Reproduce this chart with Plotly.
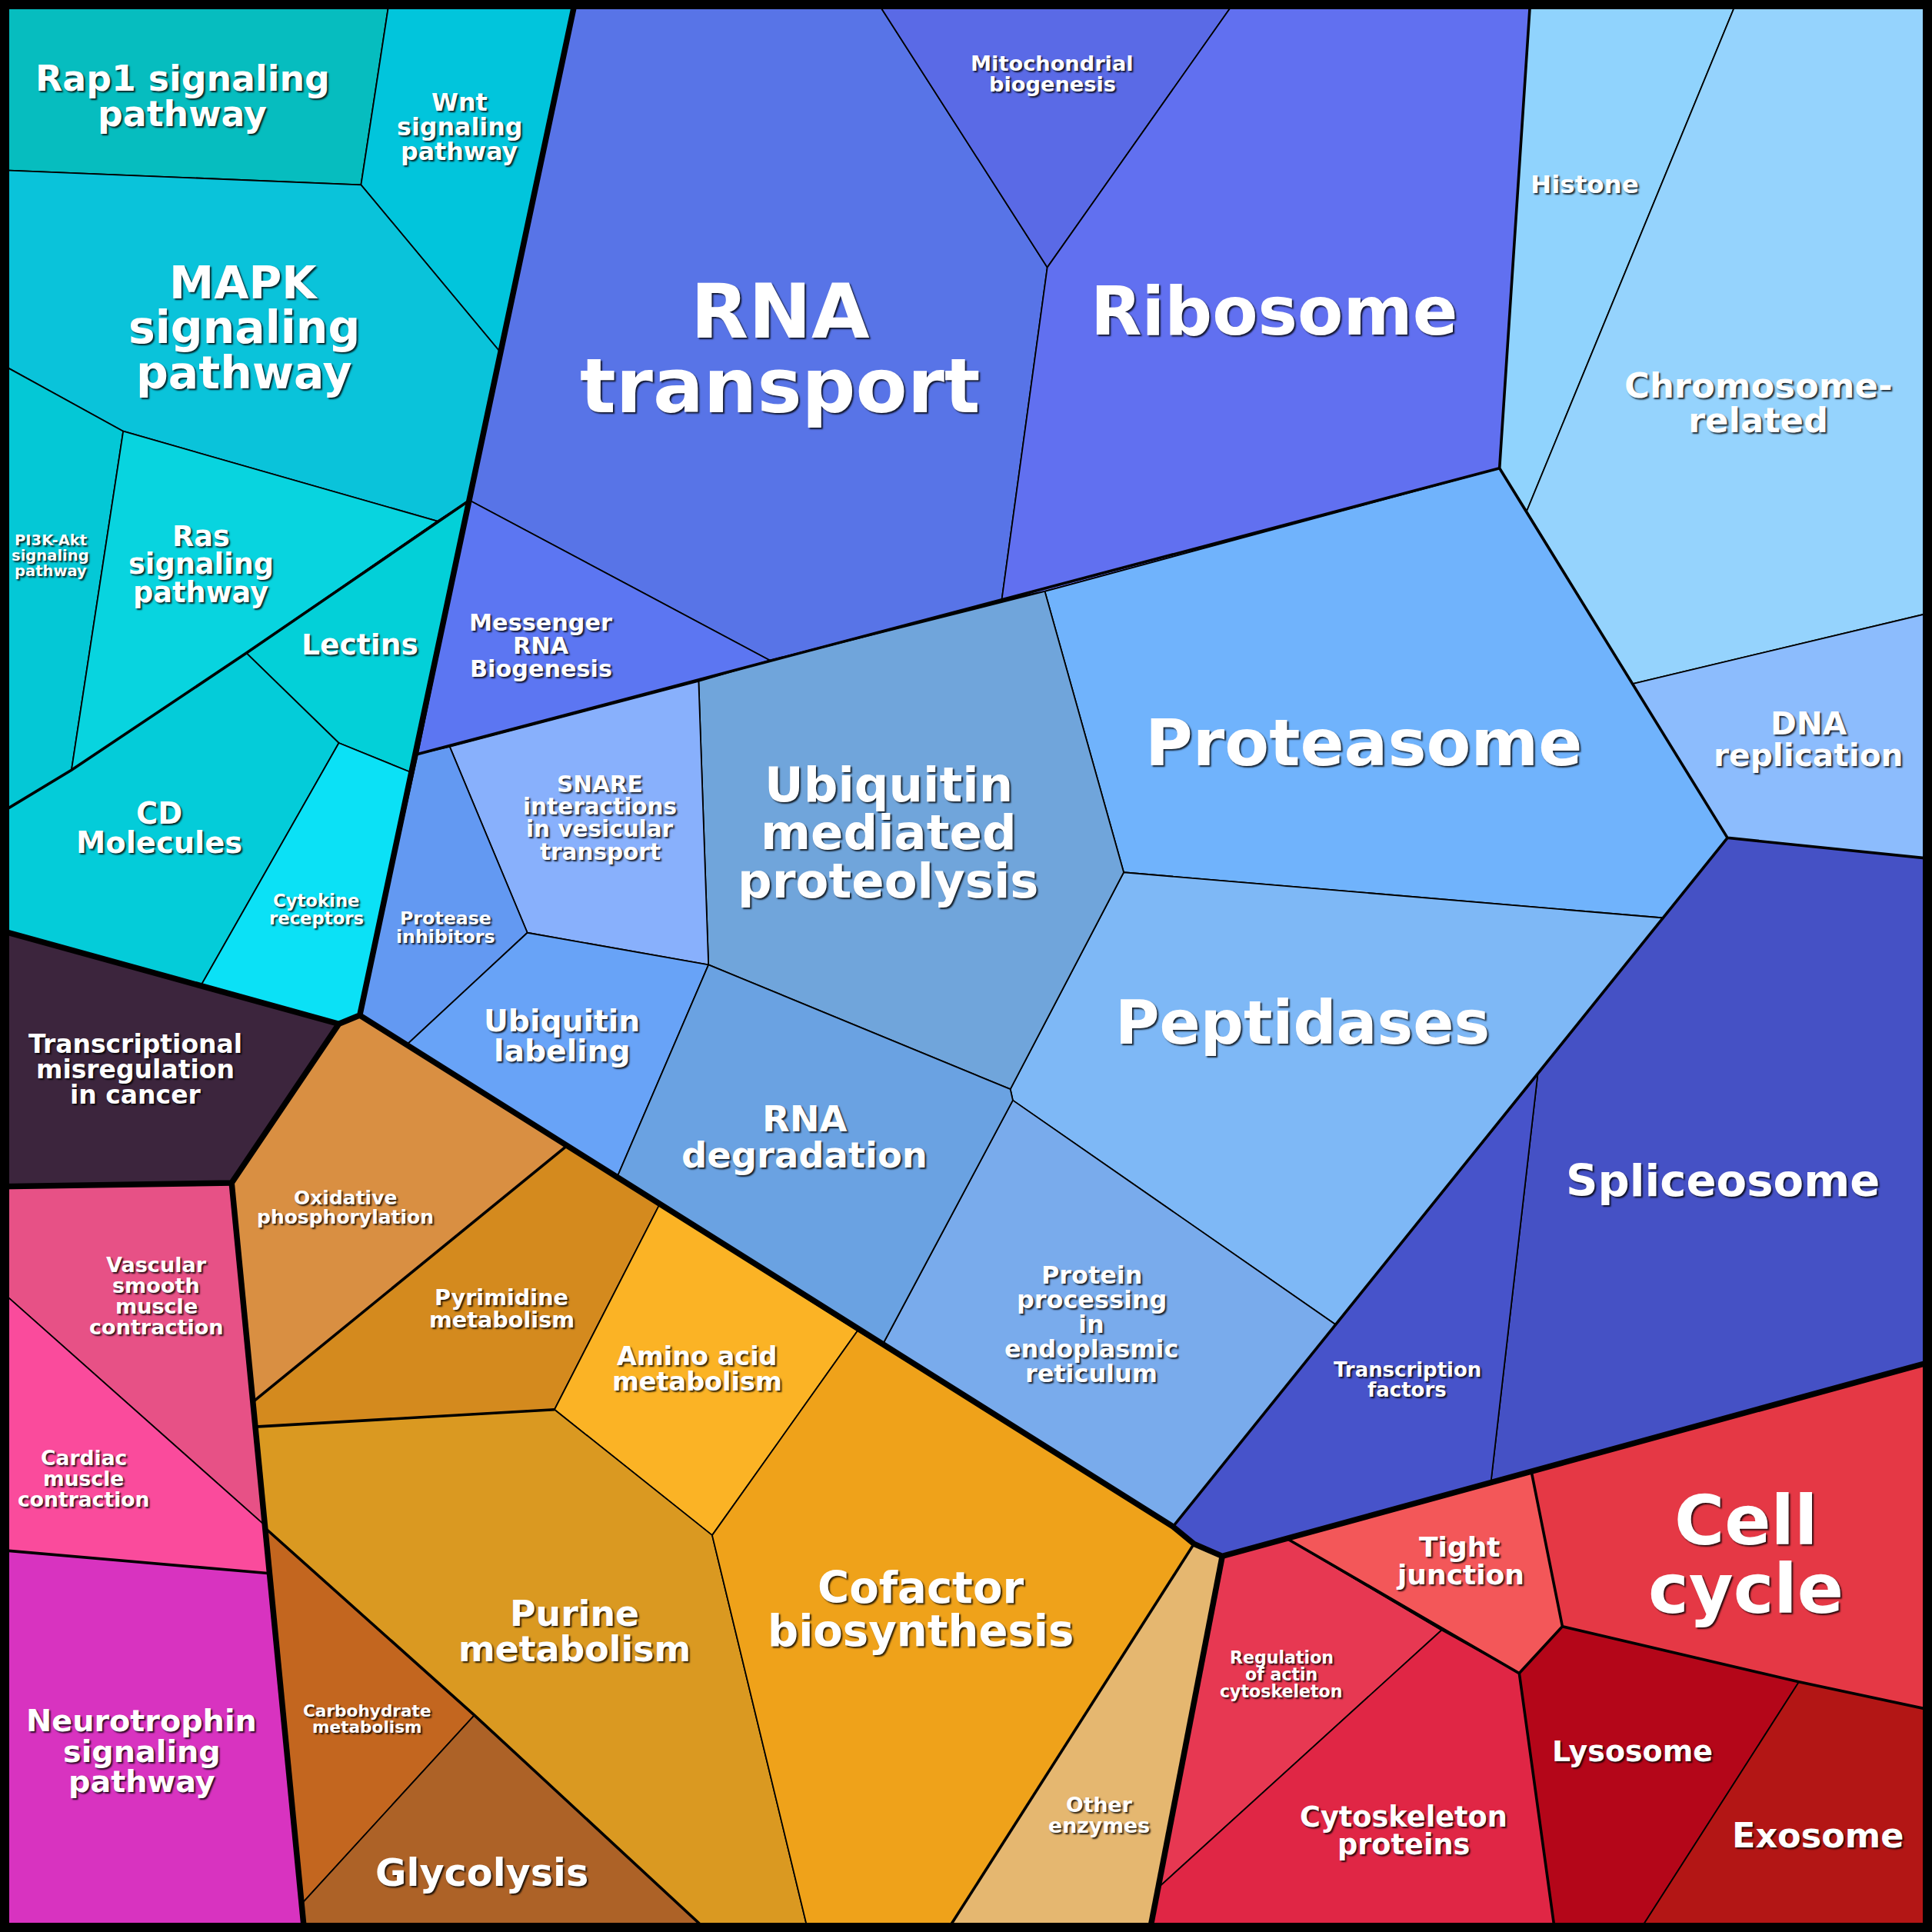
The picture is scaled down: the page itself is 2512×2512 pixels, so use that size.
import plotly.graph_objects as go

# ---------------- data ----------------
categories = [
    "Rap1 signaling pathway", "Wnt signaling pathway", "MAPK signaling pathway",
    "PI3K-Akt signaling pathway", "Ras signaling pathway", "Lectins", "CD Molecules",
    "Cytokine receptors", "Transcriptional misregulation in cancer",
    "Vascular smooth muscle contraction", "Cardiac muscle contraction",
    "Neurotrophin signaling pathway", "Oxidative phosphorylation",
    "Pyrimidine metabolism", "Amino acid metabolism", "Purine metabolism",
    "Carbohydrate metabolism", "Glycolysis", "Cofactor biosynthesis", "Other enzymes",
    "RNA transport", "Mitochondrial biogenesis", "Ribosome", "Messenger RNA Biogenesis",
    "Histone", "Chromosome-related", "DNA replication", "Proteasome", "Peptidases",
    "Protein processing in endoplasmic reticulum", "Ubiquitin mediated proteolysis",
    "SNARE interactions in vesicular transport", "Protease inhibitors",
    "Ubiquitin labeling", "RNA degradation", "Spliceosome", "Transcription factors",
    "Regulation of actin cytoskeleton", "Tight junction", "Cell cycle",
    "Cytoskeleton proteins", "Lysosome", "Exosome",
]

label_text = [
    "Rap1 signaling\npathway", "Wnt\nsignaling\npathway", "MAPK\nsignaling\npathway",
    "PI3K-Akt\nsignaling\npathway", "Ras\nsignaling\npathway", "Lectins", "CD\nMolecules",
    "Cytokine\nreceptors", "Transcriptional\nmisregulation\nin cancer",
    "Vascular\nsmooth\nmuscle\ncontraction", "Cardiac\nmuscle\ncontraction",
    "Neurotrophin\nsignaling\npathway", "Oxidative\nphosphorylation",
    "Pyrimidine\nmetabolism", "Amino acid\nmetabolism", "Purine\nmetabolism",
    "Carbohydrate\nmetabolism", "Glycolysis", "Cofactor\nbiosynthesis", "Other\nenzymes",
    "RNA\ntransport", "Mitochondrial\nbiogenesis", "Ribosome", "Messenger\nRNA\nBiogenesis",
    "Histone", "Chromosome-\nrelated", "DNA\nreplication", "Proteasome", "Peptidases",
    "Protein\nprocessing\nin\nendoplasmic\nreticulum", "Ubiquitin\nmediated\nproteolysis",
    "SNARE\ninteractions\nin vesicular\ntransport", "Protease\ninhibitors",
    "Ubiquitin\nlabeling", "RNA\ndegradation", "Spliceosome", "Transcription\nfactors",
    "Regulation\nof actin\ncytoskeleton", "Tight\njunction", "Cell\ncycle",
    "Cytoskeleton\nproteins", "Lysosome", "Exosome",
]

# cell polygons of the Voronoi treemap (image coordinates, 0..1568, y downward)
cell_polygons = [
    [(0, 0), (316, 0), (293, 150), (0, 138)],
    [(316, 0), (467, 0), (407, 287), (293, 150)],
    [(0, 138), (293, 150), (407, 287), (381, 406), (355, 423), (100, 350), (0, 295)],
    [(0, 295), (100, 350), (58, 625), (0, 660)],
    [(100, 350), (355, 423), (200, 530), (58, 625)],
    [(355, 423), (381, 406), (334, 627), (275, 603), (200, 530)],
    [(0, 660), (58, 625), (200, 530), (275, 603), (163, 800), (0, 755)],
    [(275, 603), (334, 627), (292, 824), (275, 831), (163, 800)],
    [(0, 755), (163, 800), (275, 831), (188, 960), (0, 963)],
    [(0, 963), (188, 960), (215, 1238), (0, 1047)],
    [(0, 1047), (215, 1238), (219, 1277), (0, 1258)],
    [(0, 1258), (219, 1277), (247, 1568), (0, 1568)],
    [(188, 960), (275, 831), (292, 824), (460, 930), (205, 1138)],
    [(205, 1138), (460, 930), (535, 978), (450, 1144), (207, 1158)],
    [(535, 978), (696, 1080), (578, 1246), (450, 1144)],
    [(207, 1158), (450, 1144), (578, 1246), (656, 1568), (575, 1568), (385, 1392), (215, 1240)],
    [(215, 1240), (385, 1392), (245, 1545)],
    [(385, 1392), (575, 1568), (247, 1568), (245, 1545)],
    [(578, 1246), (696, 1080), (952, 1239), (969, 1253), (768, 1568), (656, 1568)],
    [(969, 1253), (992, 1263), (933, 1568), (768, 1568)],
    [(467, 0), (711, 0), (850, 217), (813, 487), (625, 536), (381, 406)],
    [(711, 0), (1003, 0), (850, 217)],
    [(1003, 0), (1242, 0), (1217, 380), (848, 480), (813, 487), (850, 217)],
    [(381, 406), (625, 536), (567, 553), (365, 606), (339, 612)],
    [(1242, 0), (1410, 0), (1239, 415), (1217, 380)],
    [(1410, 0), (1568, 0), (1568, 497), (1325, 555), (1239, 415)],
    [(1325, 555), (1568, 497), (1568, 697), (1402, 680)],
    [(848, 480), (1217, 380), (1239, 415), (1325, 555), (1402, 680), (1350, 745), (912, 708)],
    [(912, 708), (1350, 745), (1248, 872), (1084, 1075), (822, 893), (820, 884)],
    [(822, 893), (1084, 1075), (952, 1239), (717, 1090)],
    [(567, 553), (625, 536), (848, 480), (912, 708), (820, 884), (575, 783)],
    [(365, 606), (567, 553), (575, 783), (428, 757)],
    [(339, 612), (365, 606), (428, 757), (330, 848), (292, 824)],
    [(428, 757), (575, 783), (501, 955), (330, 848)],
    [(575, 783), (820, 884), (822, 893), (717, 1090), (501, 955)],
    [(1402, 680), (1568, 697), (1568, 1105), (1210, 1203), (1248, 872)],
    [(1248, 872), (1210, 1203), (992, 1263), (969, 1253), (952, 1239)],
    [(992, 1263), (1045, 1249), (1170, 1323), (939, 1533)],
    [(1045, 1249), (1243, 1195), (1268, 1320), (1233, 1358), (1170, 1323)],
    [(1243, 1195), (1568, 1105), (1568, 1388), (1460, 1365), (1268, 1320)],
    [(1170, 1323), (1233, 1358), (1262, 1568), (933, 1568), (939, 1533)],
    [(1233, 1358), (1268, 1320), (1460, 1365), (1330, 1568), (1262, 1568)],
    [(1460, 1365), (1568, 1388), (1568, 1568), (1330, 1568)],
]

# hierarchy borders: top-level groups and sub-groups
group_borders = [
    [(467, 0), (381, 406), (292, 824), (275, 831), (0, 755)],
    [(275, 831), (188, 960), (0, 963)],
    [(188, 960), (247, 1568)],
    [(292, 824), (952, 1239), (969, 1253), (992, 1263), (1568, 1105)],
    [(992, 1263), (933, 1568)],
]
subgroup_borders = [
    [(1242, 0), (1217, 380), (1402, 680), (1568, 697)],
    [(1217, 380), (339, 612)],
    [(1402, 680), (952, 1239)],
    [(381, 406), (200, 530), (58, 625), (0, 660)],
    [(205, 1138), (460, 930)],
    [(207, 1158), (450, 1144)],
    [(215, 1240), (385, 1392), (575, 1568)],
    [(969, 1253), (768, 1568)],
    [(0, 1258), (219, 1277)],
    [(1045, 1249), (1233, 1358), (1262, 1568)],
    [(1243, 1195), (1268, 1320), (1233, 1358)],
    [(1268, 1320), (1460, 1365), (1568, 1388)],
]

# ---------------- styles / layout ----------------
colors = [
    "#06bdbf", "#01c5dc", "#0ac3da", "#04c8d6", "#08d4df", "#03d0d8", "#04ccd9",
    "#0be1f6", "#3c253d", "#e75186", "#fa4b9c", "#d833c0", "#d98f42", "#d48a1e",
    "#fbb325", "#da9921", "#c3661f", "#ad6227", "#efa21a", "#e5b770",
    "#5874e7", "#5a6ae6", "#6170f0", "#5c76f2", "#90d3fd", "#95d3fd", "#8cbcfd",
    "#70b3fc", "#7eb8f6", "#79abec", "#70a5db", "#88b0fc", "#6399f2", "#68a3f7",
    "#6aa2e2", "#4551c5", "#4753ca", "#e73852", "#f35759", "#e53845", "#e02645",
    "#b40619", "#b31615",
]

label_pos = [
    (148, 78), (373, 103), (198, 266), (41, 451), (163, 458), (292, 523), (129, 672),
    (257, 738), (110, 868), (127, 1052), (68, 1200), (115, 1421), (280, 980),
    (407, 1062), (566, 1111), (466, 1324), (298, 1395), (391, 1520), (747, 1306),
    (892, 1473), (633, 283), (854, 60), (1034, 253), (439, 524), (1286, 150),
    (1427, 327), (1468, 600), (1107, 603), (1057, 830), (886, 1075), (721, 676),
    (487, 664), (362, 753), (456, 841), (653, 923), (1398, 958), (1142, 1120),
    (1040, 1359), (1185, 1267), (1417, 1262), (1139, 1486), (1325, 1421), (1475, 1490),
]
label_size = [
    28.6, 19.8, 36.5, 12.2, 22.9, 23.5, 24.0, 14.2, 20.6, 16.9, 16.6, 24.8, 15.6,
    17.9, 20.9, 28.6, 13.5, 30.8, 35.0, 16.7, 61.0, 17.0, 54.0, 18.9, 20.3, 28.0,
    25.4, 52.6, 49.0, 19.9, 39.0, 18.4, 14.8, 24.5, 29.0, 36.0, 16.2, 13.8, 22.5,
    55.5, 22.9, 23.7, 27.8,
]

W = 2512
S = 1568.0
PX = W / S  # screen pixels per image unit

fig = go.Figure()

for name, poly, col in zip(categories, cell_polygons, colors):
    xs = [p[0] for p in poly] + [poly[0][0]]
    ys = [p[1] for p in poly] + [poly[0][1]]
    fig.add_trace(go.Scatter(
        x=xs, y=ys, mode="lines", fill="toself", fillcolor=col,
        line=dict(color="black", width=1.8), name=name,
        hoverinfo="name", showlegend=False,
    ))

for lines, width in ((subgroup_borders, 3.6), (group_borders, 7.5)):
    for seg in lines:
        fig.add_trace(go.Scatter(
            x=[p[0] for p in seg], y=[p[1] for p in seg], mode="lines",
            line=dict(color="black", width=width), hoverinfo="skip", showlegend=False,
        ))

# outer frame
fig.add_trace(go.Scatter(
    x=[0, S, S, 0, 0], y=[0, 0, S, S, 0], mode="lines",
    line=dict(color="black", width=24), hoverinfo="skip", showlegend=False,
))

annotations = []
for text, (cx, cy), fs in zip(label_text, label_pos, label_size):
    rows = text.split("\n")
    n = len(rows)
    for i, row in enumerate(rows):
        yy = cy + (i - (n - 1) / 2.0) * fs * 1.0
        annotations.append(dict(
            x=cx, y=yy, xref="x", yref="y", text=row, showarrow=False,
            xanchor="center", yanchor="middle",
            font=dict(family="DejaVu Sans", size=fs * PX, color="white", weight="bold",
                      shadow="2px 2px 2px rgba(0,0,0,0.8)"),
        ))

fig.update_layout(
    width=W, height=W, margin=dict(l=0, r=0, t=0, b=0),
    paper_bgcolor="black", plot_bgcolor="black",
    xaxis=dict(range=[0, S], visible=False, fixedrange=True),
    yaxis=dict(range=[S, 0], visible=False, fixedrange=True),
    annotations=annotations, showlegend=False,
)

fig.write_html("out.html")
